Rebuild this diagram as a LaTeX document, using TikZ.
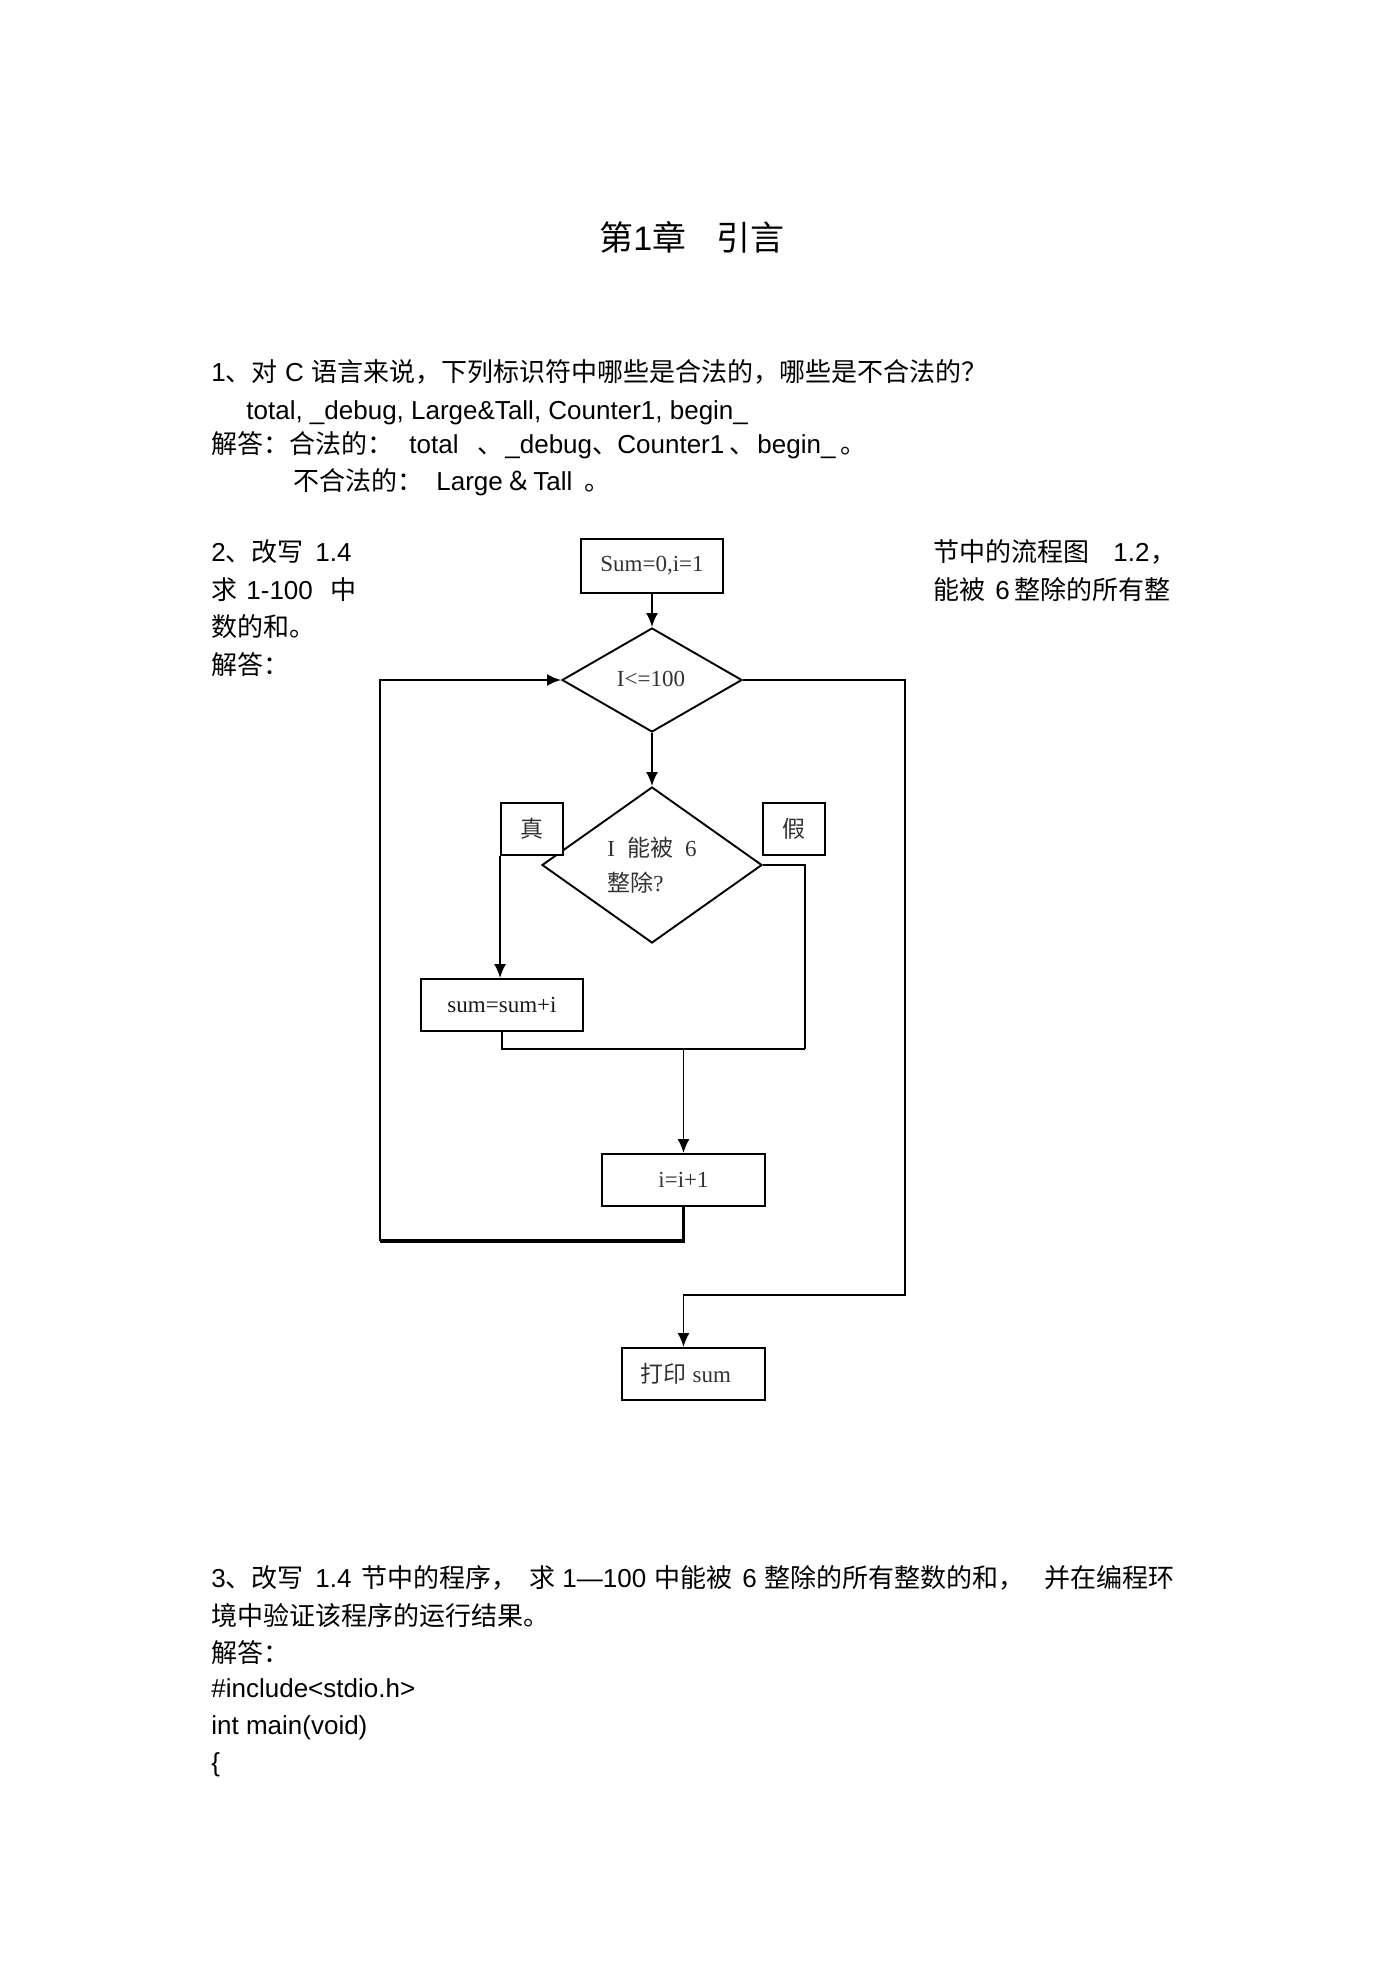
\documentclass[tikz,border=0pt]{standalone}
\usepackage{fontspec}
\setmainfont{Liberation Sans}
\newfontfamily\cjk{Noto Sans CJK SC}
\newfontfamily\rmser{Liberation Serif}
\usetikzlibrary{shapes.geometric,arrows.meta}
\tikzset{
  txt/.style={anchor=base west, inner sep=0pt, font=\fontsize{13pt}{15pt}\selectfont},
  ttl/.style={anchor=base west, inner sep=0pt, font=\fontsize{17pt}{20pt}\selectfont},
  ftxt/.style={inner sep=0pt, text=black!80, font=\fontsize{11.5pt}{13pt}\rmser\selectfont},
  box/.style={draw, line width=0.95pt, inner sep=0pt, text=black!80, font=\fontsize{11.5pt}{13pt}\rmser\selectfont},
  dia/.style={draw, diamond, line width=0.95pt, inner sep=0pt},
  arr/.style={-{Latex[length=7pt,width=6pt]}, line width=0.95pt},
  ln/.style={line width=0.95pt}
}
\begin{document}
\begin{tikzpicture}[x=0.5pt,y=-0.5pt]
\fill[white] (0,0) rectangle (1395,1974);
\useasboundingbox (0,0) rectangle (1395,1974);
% title
\node[ttl] (t1) at (599,251) {{\cjk 第}1{\cjk 章}};
\node[ttl] (t2) at (716,251) {\cjk 引言};
% question 1
\node[txt] (l1) at (211,381.5) {1{\cjk 、对} C {\cjk 语言来说，下列标识符中哪些是合法的，哪些是不合法的？}};
\node[txt] (l2) at (246,419.5) {total, \_debug, Large\&Tall, Counter1, begin\_};
\node[txt] (l3a) at (211,453) {\cjk 解答：合法的：};
\node[txt] (l3b) at (409,453) {total};
\node[txt] (l3c) at (477,453) {\cjk 、};
\node[txt] (l3d) at (505,453) {\_debug{\cjk 、}};
\node[txt] (l3e) at (617,453) {Counter1};
\node[txt] (l3f) at (729,453) {\cjk 、};
\node[txt] (l3g) at (757,453) {begin\_};
\node[txt] (l3h) at (840,453) {\cjk 。};
\node[txt] (l4a) at (293,490) {\cjk 不合法的：};
\node[txt] (l4b) at (436,490) {Large};
\node[txt] (l4c) at (505,490) {\cjk ＆};
\node[txt] (l4d) at (533,490) {Tall};
\node[txt] (l4e) at (584,490) {\cjk 。};
% question 2
\node[txt] (s2a) at (211,561) {2{\cjk 、改写}};
\node[txt] (s2a2) at (315,561) {1.4};
\node[txt] (s2b) at (933,561) {\cjk 节中的流程图};
\node[txt] (s2c) at (1113,561) {1.2};
\node[txt] (s2d) at (1150,561) {\cjk ，};
\node[txt] (s2e) at (211,599) {\cjk 求};
\node[txt] (s2f) at (246,599) {1-100};
\node[txt] (s2g) at (330,599) {\cjk 中};
\node[txt] (s2h) at (933,599) {\cjk 能被};
\node[txt] (s2i) at (995,599) {6};
\node[txt] (s2j) at (1014,599) {\cjk 整除的所有整};
\node[txt] (s2k) at (211,636) {\cjk 数的和。};
\node[txt] (s2l) at (211,674) {\cjk 解答：};
% flowchart
\node[box, line width=1.4pt, minimum width=71pt, minimum height=27pt] (s0) at (652,566) {Sum=0,i=1};
\node[dia, minimum width=90pt, minimum height=52pt] (d1) at (652,680) {};
\node[ftxt] (d1t) at (651,679) {I<=100};
\node[dia, minimum width=110pt, minimum height=78pt] (d2) at (652,865) {};
\node[ftxt, anchor=base west] (d2a) at (607,856) {I\hspace{6pt}{\cjk 能被}\hspace{6pt}6};
\node[ftxt, anchor=base west] (d2b) at (607,891) {{\cjk 整除}?};
\node[box, fill=white, minimum width=31pt, minimum height=26pt] (zhen) at (532,829) {\cjk 真};
\node[box, fill=white, minimum width=31pt, minimum height=26pt] (jia) at (794,829) {\cjk 假};
\node[box, minimum width=81pt, minimum height=26pt, text=black!90] (sumb) at (502,1005) {sum=sum+i};
\node[box, minimum width=81.5pt, minimum height=26pt] (inc) at (683.5,1180) {i=i+1};
\node[box, minimum width=71.5pt, minimum height=26pt] (pr) at (693.5,1374) {};
\node[ftxt] (prt) at (686,1374) {{\cjk 打印} sum};
\coordinate (fr) at (805,1049);
\coordinate (lb) at (380,1241);
\coordinate (rc) at (905,1295);
\draw[arr] (s0.south) -- (d1.north);
\draw[arr] (d1.south) -- (d2.north);
\draw[arr] (zhen.south west) -- (zhen.south west |- sumb.north);
\draw[ln] (d2.east) -| (fr);
\draw[ln] (sumb.south) |- (fr);
\draw[arr] (inc.north |- fr) -- (inc.north);
\draw[line width=1.6pt] (inc.south) |- (lb);
\draw[arr, line width=1.1pt] (lb) |- (d1.west);
\draw[arr] (d1.east) -| (rc) -| (inc.south |- pr.north);
% question 3
\node[txt] (s3a) at (211,1587) {3{\cjk 、改写}};
\node[txt] (s3b) at (315,1587) {1.4};
\node[txt] (s3c) at (361,1587) {\cjk 节中的程序，};
\node[txt] (s3d) at (529,1587) {\cjk 求};
\node[txt] (s3e) at (562,1587) {1—100};
\node[txt] (s3f) at (654,1587) {\cjk 中能被};
\node[txt] (s3g) at (742,1587) {6};
\node[txt] (s3h) at (764,1587) {\cjk 整除的所有整数的和，};
\node[txt] (s3i) at (1044,1587) {\cjk 并在编程环};
\node[txt] (s3j) at (211,1625) {\cjk 境中验证该程序的运行结果。};
\node[txt] (s3k) at (211,1662) {\cjk 解答：};
\node[txt] (s3l) at (211,1697) {\#include<stdio.h>};
\node[txt] (s3m) at (211,1734) {int main(void)};
\node[txt] (s3n) at (211,1771) {\{};
\end{tikzpicture}
\end{document}
